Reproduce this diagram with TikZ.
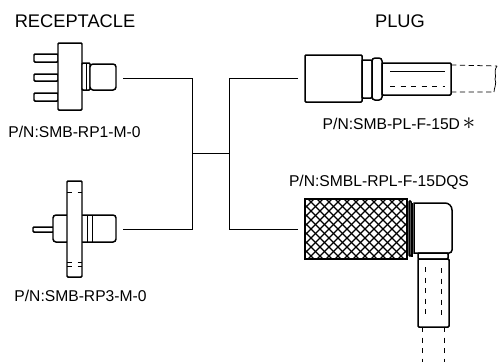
\documentclass[tikz,border=0pt]{standalone}
\usepackage{fontspec}
\setmainfont{Liberation Sans}
\usetikzlibrary{positioning}
\tikzset{
    part/.style={line width=0.3mm, rounded corners=0.02cm, fill=white},
    thin part/.style={line width=0.15mm},
    wire/.style={line width=0.2mm},
    title/.style={inner sep=0pt, font=\fontsize{10.4}{12}\selectfont},
    partno/.style={inner sep=0pt, font=\fontsize{8.9}{10}\selectfont}
}
\begin{document}
\begin{tikzpicture}[x=0.02cm,y=-0.02cm]
    \useasboundingbox (0,0) rectangle (498,362);

    \node[title] (receptacle) at (75,21) {RECEPTACLE};
    \node[title] (plug) at (400,21) {PLUG};
    \node[partno] (rp1) at (74.5,132) {P/N:SMB-RP1-M-0};
    \node[partno] (rp3) at (80.5,296) {P/N:SMB-RP3-M-0};
    \node[partno] (pl) at (399,124) {P/N:SMB-PL-F-15D\,{\Large$\ast$}};
    \node[partno] (rpl) at (379,182) {P/N:SMBL-RPL-F-15DQS};

    % connectors
    \coordinate (rp1 end) at (123,78);
    \coordinate (rp3 end) at (123,229);
    \coordinate (pl end) at (298,78);
    \coordinate (rpl end) at (298,229);
    \coordinate (mid left) at (192,153);
    \coordinate (mid right) at (229,153);
    \draw[wire] (rp1 end) -| (mid left);
    \draw[wire] (rp3 end) -| (mid left);
    \draw[wire] (mid left) -- (mid right);
    \draw[wire] (pl end) -| (mid right);
    \draw[wire] (rpl end) -| (mid right);

    % upper receptacle
    \draw[part] (34,54) rectangle (58,62);
    \draw[part] (34,74) rectangle (58,81);
    \draw[part] (34,93) rectangle (58,101);
    \draw[part] (58,43) rectangle (82,110);
    \draw[part] (82,63) rectangle (90,90);
    \draw[part,rounded corners=0.06cm] (90,64) rectangle (116,90);
    \draw[thin part] (86,63) -- (86,90);

    % lower receptacle
    \draw[part] (33,227) rectangle (54,232);
    \draw[part,rounded corners=0.06cm] (53,215) rectangle (70,242);
    \draw[part,rounded corners=0.06cm] (78,215) rectangle (116,242);
    \draw[thin part] (87,215) -- (87,242) (92,215) -- (92,242);
    \draw[part] (67,181) rectangle (82,277);
    \draw[thin part,dashed] (67,192) -- (82,192) (67,262) -- (82,262) (67,266) -- (82,266);

    % straight plug
    \draw[part] (305,55) rectangle (362,102);
    \draw[part] (362,60) rectangle (372,98);
    \draw[part,rounded corners=0.06cm] (372,58) rectangle (382,100);
    \draw[part] (382,63) rectangle (451,95);
    \draw[thin part] (390,71) -- (445,71);
    \draw[thin part,dashed] (390,86) -- (445,86);
    \draw[thin part,densely dashed] (451,65) -- (497,66) (451,92) -- (494,92);
    \draw[thin part] (497,66) .. controls (493,72) and (497,76) .. (495,79) .. controls (497,84) and (494,88) .. (494,92);

    % right angle plug
    \begin{scope}
        \clip (305,199) rectangle (407,259);
        \foreach \d in {-60,-51,...,170} {
            \draw[line width=0.28mm] (305+\d,199) -- ++(70,70);
            \draw[line width=0.28mm] (305+\d,259) -- ++(70,-70);
        }
    \end{scope}
    \draw[line width=0.4mm] (305,199) rectangle (407,259);
    \draw[part] (409,201) rectangle (411,256);
    \draw[part,line width=0.5mm] (412,203) -- (412,257);
    \draw[line width=0.3mm,fill=white] (414,203) [rounded corners=0.14cm] -- (452,203) [rounded corners=0.06cm] -- (452,253) [sharp corners] -- (414,253) -- cycle;
    \draw[part] (418,253) rectangle (448,259);
    \draw[part] (418,259) rectangle (449,327);
    \draw[thin part,dashed] (425,267) -- (425,318) (441,268) -- (441,319);
    \draw[thin part,dashed] (422,327) -- (422,362) (444,327) -- (444,362);
\end{tikzpicture}
\end{document}
